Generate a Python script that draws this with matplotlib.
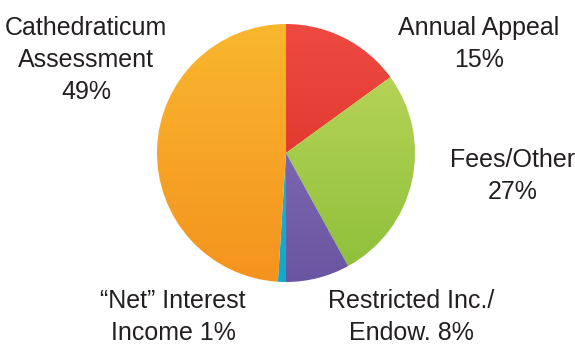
import numpy as np
import matplotlib
matplotlib.use("Agg")
import matplotlib.pyplot as plt
from matplotlib.colors import LinearSegmentedColormap

labels = ["Annual Appeal\n15%", "Fees/Other\n27%", "Restricted Inc./\nEndow. 8%",
          "\u201cNet\u201d Interest\nIncome 1%", "Cathedraticum\nAssessment\n49%"]
values = [15, 27, 8, 1, 49]
# (top colour, bottom colour) for the soft vertical gradient on each slice
top_colors = ["#EF4A42", "#C0D85E", "#8B78BD", "#22BEE0", "#F9B72E"]
bottom_colors = ["#D52D1E", "#8CBF38", "#6A55A2", "#10A8CC", "#F4931E"]

# label centres in pixel coords (x from left, y from top)
label_pos = [(479, 44), (513, 176), (411, 317), (173, 317), (86, 60)]

W, H = 575, 347
fig = plt.figure(figsize=(W / 100, H / 100), dpi=100)
cx, cy, r = 286, 153, 129
ax = fig.add_axes([(cx - r) / W, (H - cy - r) / H, 2 * r / W, 2 * r / H])
ax.set_xlim(-1, 1)
ax.set_ylim(-1, 1)
ax.axis("off")

wedges, _ = ax.pie(values, startangle=90, counterclock=False, radius=1,
                   colors=top_colors, wedgeprops=dict(linewidth=0))

grad = np.linspace(1, 0, 256).reshape(-1, 1)
for w, c1, c2 in zip(wedges, top_colors, bottom_colors):
    w.set_facecolor("none")
    cmap = LinearSegmentedColormap.from_list("g", [c2, c1])
    im = ax.imshow(grad, cmap=cmap, extent=[-1, 1, -1, 1], aspect="auto",
                   origin="upper", zorder=1)
    im.set_clip_path(w)
ax.set_xlim(-1, 1)
ax.set_ylim(-1, 1)

for lab, (px, py) in zip(labels, label_pos):
    fig.text(px / W, 1 - py / H, lab, ha="center", va="center",
             fontsize=18, family="Liberation Sans", color="#231F20",
             linespacing=1.42)

fig.savefig("out.png", dpi=100)
